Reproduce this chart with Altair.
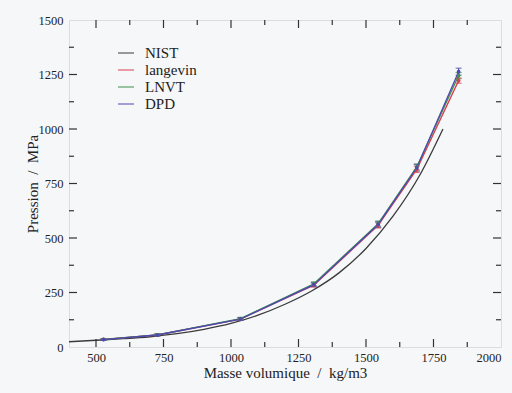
import altair as alt
import pandas as pd

# ---- data ----
series_names = ["NIST", "langevin", "LNVT", "DPD"]
series_colors = ["#3a3a3a", "#d9404f", "#3f8f4f", "#4a4ab0"]

x_nist = [400, 500, 600, 700, 800, 900, 1000, 1100, 1200, 1300, 1400, 1500, 1600, 1700, 1785]
p_nist = [24, 31, 38, 47, 61, 81, 108, 146, 196, 258, 340, 452, 600, 790, 1000]

x_sim = [528, 727, 1035, 1307, 1545, 1688, 1843]
p_lang = [35, 55, 128, 284, 558, 815, 1222]
e_lang = [3, 4, 6, 9, 12, 14, 12]
p_lnvt = [35, 56, 130, 290, 566, 826, 1245]
e_lnvt = [3, 4, 6, 9, 12, 14, 14]
p_dpd = [34, 55, 128, 286, 562, 822, 1263]
e_dpd = [3, 4, 6, 9, 13, 15, 16]

x_major = [500, 750, 1000, 1250, 1500, 1750]
x_minor = [625, 875, 1125, 1375, 1625, 1875]
y_major = [250, 500, 750, 1000, 1250]
y_minor = [125, 375, 625, 875, 1125, 1375]
x_labels = [500, 750, 1000, 1250, 1500, 1750, 2000]
y_labels = [0, 250, 500, 750, 1000, 1250, 1500]

# ---- tables ----
rows = []
for x, p in zip(x_nist, p_nist):
    rows.append({"rho": x, "P": p, "lo": p, "hi": p, "series": "NIST"})
for name, ps, es in [("langevin", p_lang, e_lang), ("LNVT", p_lnvt, e_lnvt), ("DPD", p_dpd, e_dpd)]:
    for x, p, e in zip(x_sim, ps, es):
        rows.append({"rho": x, "P": p, "lo": p - e, "hi": p + e, "series": name})
df = pd.DataFrame(rows)
nist = df[df.series == "NIST"]
sim = df[df.series != "NIST"]

W, H = 432, 327
xs = alt.Scale(domain=[400, 2000], nice=False, zero=False)
ys = alt.Scale(domain=[0, 1500], nice=False)
cscale = alt.Scale(domain=series_names, range=series_colors)
serif = "Liberation Serif"
color = alt.Color("series:N", scale=cscale, sort=series_names,
                  legend=alt.Legend(title=None, orient="none", legendX=48, legendY=25,
                                    symbolType="stroke", symbolSize=256, symbolStrokeWidth=1.2,
                                    labelFont=serif, labelFontSize=15,
                                    labelColor="#222", labelOffset=10, rowPadding=1,
                                    clipHeight=16))

XT = "Masse volumique\u00a0\u00a0/\u00a0\u00a0kg/m3"
YT = "Pression\u00a0\u00a0/\u00a0\u00a0MPa"
x_axis = alt.Axis(values=x_labels, format="d", tickSize=0, domain=False, grid=False,
                  labelFont=serif, labelFontSize=12.5, labelColor="#222", labelPadding=4,
                  title=XT, titleFont=serif,
                  titleFontSize=15, titleFontWeight="normal", titleColor="#222",
                  titleBaseline="alphabetic", titleY=30)
y_axis = alt.Axis(values=y_labels, format="d", tickSize=0, domain=False, grid=False,
                  labelFont=serif, labelFontSize=12.5, labelColor="#222", labelPadding=6,
                  title=YT, titleFont=serif,
                  titleFontSize=15, titleFontWeight="normal", titleColor="#222",
                  titleBaseline="alphabetic", titleX=-32, titleY=H / 2, titleAngle=-90,
                  titleAlign="center")

def X(field):
    return alt.X(field, scale=xs, axis=x_axis, title=XT)

def Y(field):
    return alt.Y(field, scale=ys, axis=y_axis, title=YT)

nist_line = alt.Chart(nist).mark_line(strokeWidth=1.3, interpolate="monotone").encode(
    x=X("rho:Q"), y=Y("P:Q"), color=color, order="rho:Q",
)
sim_lines = alt.Chart(sim).mark_line(strokeWidth=1.3).encode(
    x=X("rho:Q"), y=Y("P:Q"), color=color, order="rho:Q",
)
bars = alt.Chart(sim).mark_errorbar(ticks={"size": 6}, thickness=1.2).encode(
    x=X("rho:Q"), y=Y("lo:Q"), y2="hi:Q",
    color=alt.Color("series:N", scale=cscale, legend=None),
)
pts = alt.Chart(sim).mark_point(filled=True, size=14, opacity=1).encode(
    x=X("rho:Q"), y=Y("P:Q"),
    color=alt.Color("series:N", scale=cscale, legend=None),
)

tick_color = "#333"

def xticks(vals, L):
    d = pd.DataFrame({"v": vals})
    bot = alt.Chart(d).mark_rule(color=tick_color, strokeWidth=1.2).encode(
        x=X("v:Q"), y=alt.value(H), y2=alt.value(H - L))
    top = alt.Chart(d).mark_rule(color=tick_color, strokeWidth=1.2).encode(
        x=X("v:Q"), y=alt.value(0), y2=alt.value(L))
    return [bot, top]

def yticks(vals, L):
    d = pd.DataFrame({"v": vals})
    lef = alt.Chart(d).mark_rule(color=tick_color, strokeWidth=1.2).encode(
        y=Y("v:Q"), x=alt.value(0), x2=alt.value(L))
    rig = alt.Chart(d).mark_rule(color=tick_color, strokeWidth=1.2).encode(
        y=Y("v:Q"), x=alt.value(W), x2=alt.value(W - L))
    return [lef, rig]

chart = alt.layer(
    nist_line, sim_lines, bars, pts,
    *xticks(x_major, 8), *xticks(x_minor, 5), *yticks(y_major, 8), *yticks(y_minor, 5),
).resolve_scale(color="shared").properties(
    width=W, height=H, autosize="none",
    padding={"left": 69, "top": 20, "right": 11, "bottom": 46},
    background="#f6f7f9",
).configure_view(stroke="#333", strokeWidth=1.5).configure_axis(
    labelFont=serif, titleFont=serif, labelFontSize=12.5, labelColor="#222"
).configure(font=serif)

chart.save("out.html", embed_options={"renderer": "svg", "actions": False})
